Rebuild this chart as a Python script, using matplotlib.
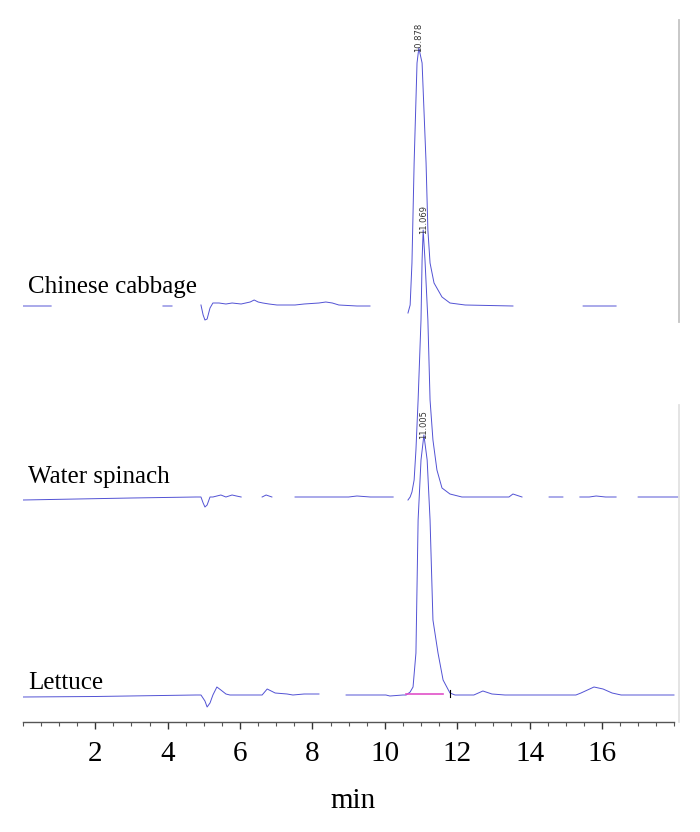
import numpy as np
import matplotlib
matplotlib.use('Agg')
import matplotlib.pyplot as plt
from matplotlib.ticker import MultipleLocator

nan = np.nan

# retention time (min) and signal,
# nan marks the places where the printed trace breaks off
cabbage_t = [0.0, 0.78, nan, 3.87, 4.12, nan,
             4.92, 4.98, 5.03, 5.09, 5.17, 5.25, 5.42, 5.61, 5.78, 6.03, 6.28, 6.39,
             6.50, 6.63, 6.80, 7.02, 7.52, 7.77, 8.18, 8.37, 8.55, 8.73, 9.23, 9.59, nan,
             10.64, 10.70, 10.75, 10.81, 10.89, 10.94, 11.03, 11.14, 11.19, 11.25, 11.36,
             11.58, 11.80, 12.22, 13.54, nan, 15.48, 16.39]
cabbage_s = [-1, -1, nan, -1, -1, nan,
             0, -10, -15, -14, -3, 2, 2, 1, 2, 1, 3, 5,
             3, 2, 1, 0, 0, 1, 2, 3, 2, 0, -1, -1, nan,
             -8, 0, 42, 142, 242, 257, 242, 142, 75, 42, 22,
             8, 2, 0, -1, nan, -1, -1]

spinach_t = [0.0, 1.5, 3.0, 4.78, 4.92, 4.98, 5.03, 5.09, 5.17, 5.25, 5.36, 5.47,
             5.61, 5.78, 5.90, 6.03, nan, 6.61, 6.72, 6.88, nan,
             7.52, 8.37, 9.00, 9.23, 9.60, 10.23, nan,
             10.64, 10.70, 10.75, 10.81, 10.86, 10.92, 11.00, 11.03, 11.06, 11.11, 11.19,
             11.25, 11.33, 11.44, 11.58, 11.80, 12.13, 12.50, 13.43, 13.54, 13.79, nan,
             14.54, 14.92, nan, 15.39, 15.65, 15.84, 16.10, 16.39, nan, 17.00, 18.13]
spinach_s = [-3, -2, -1, 0, 0, -6, -10, -8, 0, 0, 1, 2,
             0, 2, 1, 0, nan, 0, 2, 0, nan,
             0, 0, 0, 1, 0, 0, nan,
             -3, 0, 5, 17, 47, 97, 177, 237, 267, 237, 177,
             97, 57, 27, 9, 3, 0, 0, 0, 3, 0, nan,
             0, 0, nan, 0, 0, 1, 0, 0, nan, 0, 0]

lettuce_t = [0.0, 2.0, 4.78, 4.92, 5.03, 5.09, 5.17, 5.25, 5.36, 5.47, 5.61, 5.72,
             6.61, 6.75, 6.97, 7.30, 7.46, 7.77, 8.18, nan,
             8.93, 9.50, 10.03, 10.14, 10.50, 10.59,
             10.70, 10.78, 10.86, 10.92, 11.00, 11.08, 11.17, 11.25, 11.33, 11.47, 11.61,
             11.80, 11.94, 12.46, 12.71, 12.96, 13.32,
             15.28, 15.42, 15.78, 16.03, 16.28, 16.53, 17.99]
lettuce_s = [-2, -1.5, 0, 0, -6, -12, -8, 0, 8, 5, 1, 0,
             0, 6, 2, 1, 0, 1, 1, nan,
             0, 0, 0, -1, 0, 0,
             3, 8, 42, 175, 235, 260, 235, 175, 75, 42, 15,
             2, 0, 0, 4, 1, 0,
             0, 2, 8, 6, 2, 0, 0]

# integration baseline under the lettuce peak
lettuce_int_t = [10.59, 11.61]
lettuce_int_s = [1, 1]

sample_names = ['Chinese cabbage', 'Water spinach', 'Lettuce']
peak_labels = ['10.878', '11.069', '11.005']

traces = [(cabbage_t, cabbage_s), (spinach_t, spinach_s), (lettuce_t, lettuce_s)]
offsets = [417, 225, 27]      # vertical stacking of the three runs
name_dy = [12, 14, 6]

line_col = '#5252d4'
serif = 'Liberation Serif'

fig = plt.figure(figsize=(7.0, 8.32), dpi=100)
ax = fig.add_axes([22.9 / 700, 110 / 832, 662.3 / 700, 722 / 832])
ax.set_xlim(0, 18.3)
ax.set_ylim(0, 722)

for (t, s), off, name, lab, dy in zip(traces, offsets, sample_names, peak_labels, name_dy):
    t = np.array(t, dtype=float)
    s = np.array(s, dtype=float)
    ax.plot(t, s + off, color=line_col, lw=0.7)
    i = np.nanargmax(s)
    ax.text(t[i], s[i] + off - 4, lab, rotation=90, ha='center', va='bottom',
            fontsize=6, color='#333333', family='DejaVu Sans')
    ax.text(0.14, off + dy, name, ha='left', va='baseline', fontsize=18,
            family=serif, color='black')

# integration marks on the lettuce run
ax.plot(lettuce_int_t, np.array(lettuce_int_s) + offsets[2], color='#e050c8', lw=1.2)
ax.plot([11.80, 11.80], [offsets[2] - 2, offsets[2] + 5], color='black', lw=0.8)

# right edges of the stacked panels
ax.plot([18.13, 18.13], [400, 702], color='#c4c4c4', lw=1.3, clip_on=False)
ax.plot([18.13, 18.13], [0, 317], color='#e2e2e2', lw=1.3, clip_on=False)

for side in ['top', 'right', 'left']:
    ax.spines[side].set_visible(False)
ax.spines['bottom'].set_bounds(0, 18.0)
ax.spines['bottom'].set_color('#555555')
ax.spines['bottom'].set_linewidth(1.0)

ax.set_xticks(np.arange(2, 17, 2))
ax.xaxis.set_minor_locator(MultipleLocator(0.5))
ax.tick_params(axis='x', which='major', length=5, width=1, color='#333333',
               labelsize=21, pad=9)
ax.tick_params(axis='x', which='minor', length=3, width=0.8, color='#555555')
for lbl in ax.get_xticklabels():
    lbl.set_family(serif)
ax.set_yticks([])

fig.text(353.5 / 700, 1 - 808 / 832, 'min', ha='center', va='baseline',
         fontsize=21, family=serif)

fig.savefig('out.png', dpi=100, facecolor='white')
